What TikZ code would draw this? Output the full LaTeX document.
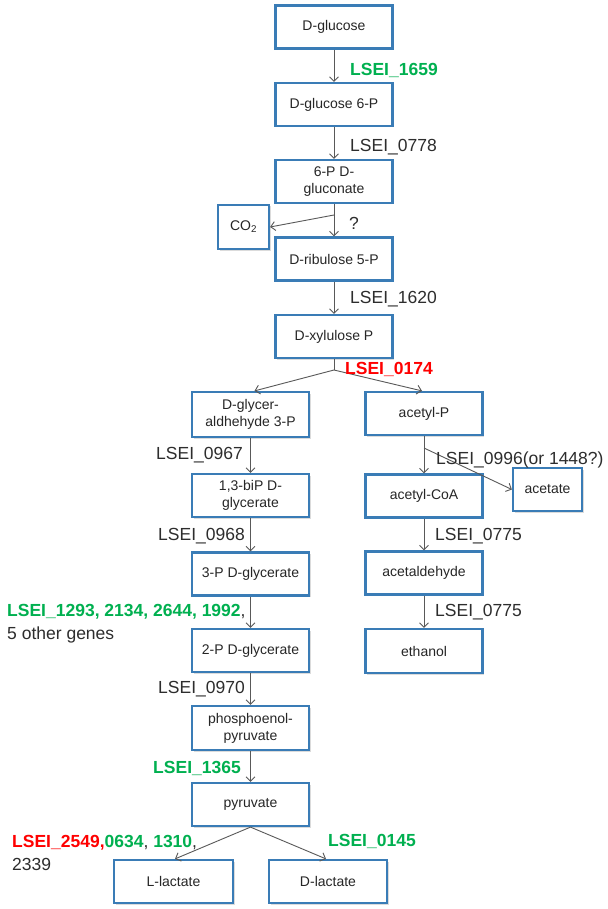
\documentclass[tikz,border=0pt]{standalone}
\usepackage{fontspec}
\setmainfont{Liberation Sans}
\usetikzlibrary{arrows.meta,shadows,calc}
\definecolor{boxblue}{RGB}{58,124,182}
\definecolor{lblgray}{RGB}{45,45,45}
\definecolor{gnum}{RGB}{0,176,80}
\definecolor{rnum}{RGB}{255,0,0}
\begin{document}
\begin{tikzpicture}[x=1pt,y=-1pt,
  box/.style={draw=boxblue, line width=2.2pt, fill=white, minimum width=117pt,
    minimum height=43pt, inner sep=2pt, align=center,
    font=\fontsize{14}{17}\selectfont, text=black!85,
    drop shadow={shadow xshift=1.5pt, shadow yshift=-1.5pt, fill=black!40, opacity=0.35}},
  lbl/.style={font=\fontsize{17.5}{23}\selectfont, text=lblgray, inner sep=0pt},
  conn/.style={draw=black!65, line width=0.9pt},
  arr/.style={conn, -{Straight Barb[length=4.5pt,width=9pt]}}
]
\fill[white] (0,0) rectangle (607,909);
\useasboundingbox (0,0) rectangle (607,909);

% main column
\node[box] (glc) at (334,27) {D-glucose};
\node[box] (g6p) at (334,104.5) {D-glucose 6-P};
\node[box] (gcn) at (334,181.5) {6-P D-\\gluconate};
\node[box, minimum width=51pt, minimum height=44pt] (co2) at (243.5,227) {CO\textsubscript{2}};
\node[box] (rib) at (334,259) {D-ribulose 5-P};
\node[box] (xyl) at (334,336.5) {D-xylulose P};

% left column
\node[box, minimum height=45pt] (glyc) at (250.5,414.5) {D-glycer-\\aldhehyde 3-P};
\node[box] (bip) at (250.5,495.5) {1,3-biP D-\\glycerate};
\node[box] (pg3) at (250.5,574) {3-P D-glycerate};
\node[box] (pg2) at (250.5,650.5) {2-P D-glycerate};
\node[box, minimum height=44pt] (pep) at (250.5,728) {phosphoenol-\\pyruvate};
\node[box] (pyr) at (250.5,804.5) {pyruvate};
\node[box, minimum width=119pt] (llac) at (173.5,881.5) {L-lactate};
\node[box, minimum width=118pt] (dlac) at (328,881.5) {D-lactate};

% right column
\node[box] (acp) at (424,413.5) {acetyl-P};
\node[box] (acoa) at (424,496) {acetyl-CoA};
\node[box, minimum width=69pt] (acet) at (547.5,489.5) {acetate};
\node[box] (ald) at (424,573) {acetaldehyde};
\node[box, minimum height=44pt] (eth) at (424,651) {ethanol};

% connectors
\draw[arr] (glc) -- (g6p);
\draw[arr] (g6p) -- (gcn);
\draw[arr] (gcn) -- (rib);
\coordinate (c1) at (334,215);
\draw[arr] (c1) -- (co2.east);
\draw[arr] (rib) -- (xyl);
\coordinate (b1) at (334,370);
\draw[conn] (xyl.south) -- (b1);
\draw[arr] (b1) -- ($(glyc.north)+(4,0)$);
\draw[arr] (b1) -- ($(acp.north)+(-2,0)$);
\draw[arr] (glyc) -- (bip);
\draw[arr] (bip) -- (pg3);
\draw[arr] (pg3) -- (pg2);
\draw[arr] (pg2) -- (pep);
\draw[arr] (pep) -- (pyr);
\draw[arr] (pyr.south) -- ($(llac.north)+(1.5,0)$);
\draw[arr] (pyr.south) -- ($(dlac.north)+(-2,0)$);
\draw[arr] (acp) -- (acoa);
\coordinate (c2) at (424,448);
\draw[arr] (c2) -- (acet.west);
\draw[arr] (acoa) -- (ald);
\draw[arr] (ald) -- (eth);

% labels
\node[lbl, anchor=west] (l1659) at (350,70) {\textcolor{gnum}{\bfseries LSEI\_1659}};
\node[lbl, anchor=west] (l0778) at (350,147) {LSEI\_0778};
\node[lbl] (lq) at (354,223) {?};
\node[lbl, anchor=west] (l1620) at (350,299) {LSEI\_1620};
\node[lbl, anchor=west] (l0174) at (345,369) {\textcolor{rnum}{\bfseries LSEI\_0174}};
\node[lbl, anchor=east] (l0967) at (243,455) {LSEI\_0967};
\node[lbl, anchor=west] (l0996) at (436,460) {LSEI\_0996(or 1448?)};
\node[lbl, anchor=east] (l0968) at (245,536) {LSEI\_0968};
\node[lbl, anchor=west] (l0775a) at (435,536) {LSEI\_0775};
\node[lbl, anchor=west] (l0775b) at (435,612) {LSEI\_0775};
\node[lbl, anchor=west, align=left] (l1293) at (7,623.5)
  {\textcolor{gnum}{\bfseries LSEI\_1293, 2134, 2644, 1992},\\5 other genes};
\node[lbl, anchor=east] (l0970) at (245,689) {LSEI\_0970};
\node[lbl, anchor=east] (l1365) at (241,768) {\textcolor{gnum}{\bfseries LSEI\_1365}};
\node[lbl, anchor=west, align=left] (l2549) at (12,852.5)
  {\textcolor{rnum}{\bfseries LSEI\_2549,}\textcolor{gnum}{\bfseries 0634}, \textcolor{gnum}{\bfseries 1310},\\2339};
\node[lbl, anchor=west] (l0145) at (328,841) {\textcolor{gnum}{\bfseries LSEI\_0145}};
\end{tikzpicture}
\end{document}
